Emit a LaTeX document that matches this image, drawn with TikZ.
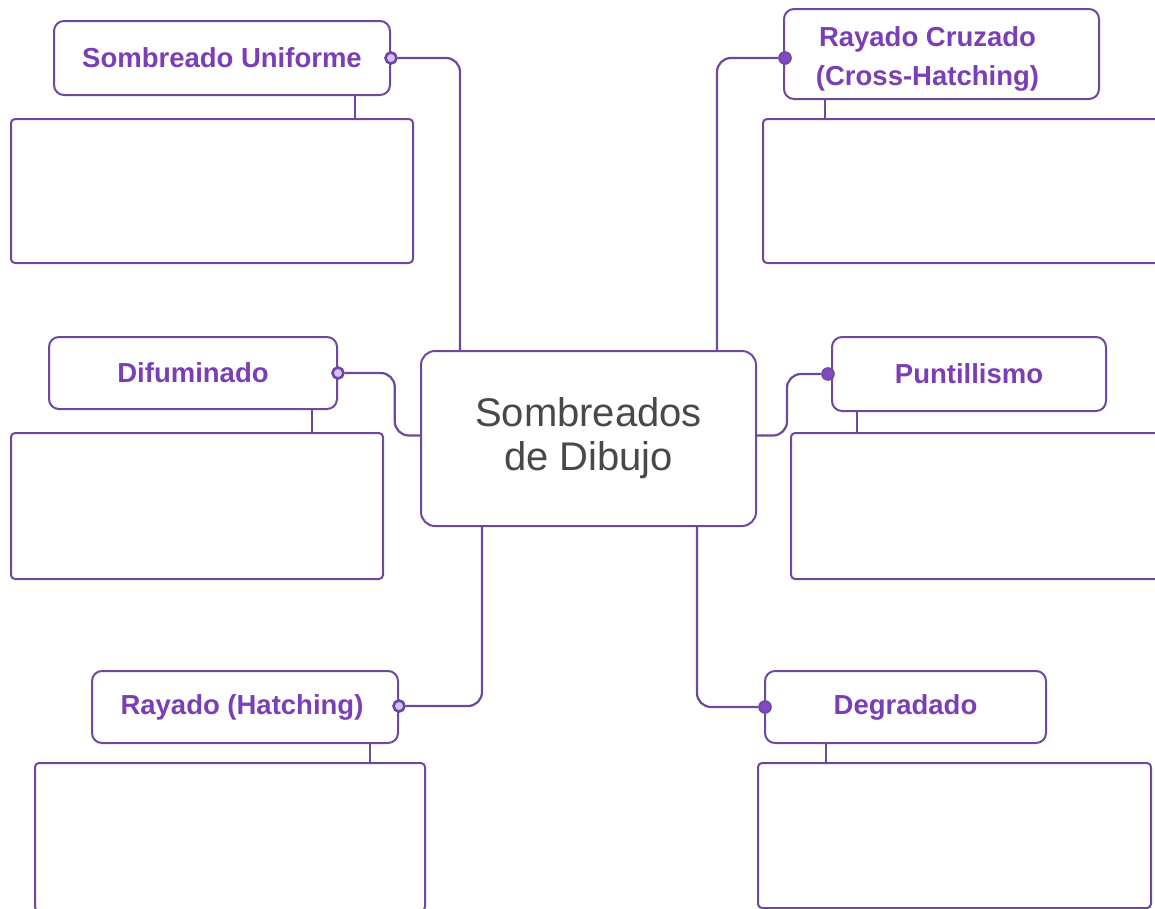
\documentclass[tikz,border=0pt]{standalone}
\usepackage{fontspec}
\setmainfont{Liberation Sans}
\usetikzlibrary{calc}
\definecolor{lineC}{RGB}{108,72,158}
\definecolor{textC}{RGB}{122,62,182}
\definecolor{centerT}{RGB}{72,72,74}
\definecolor{dotfillL}{RGB}{215,190,245}
\definecolor{dotfillR}{RGB}{130,72,196}
\tikzset{
  box/.style={draw=lineC, line width=2pt, rounded corners=10pt, anchor=north west, inner sep=0pt, align=center},
  label/.style={box, text=textC, font=\fontsize{27.5}{38}\selectfont\bfseries},
  content/.style={draw=lineC, line width=2pt, rounded corners=4pt, anchor=north west, inner sep=0pt},
  conn/.style={draw=lineC, line width=2.2pt, rounded corners=14pt},
  stem/.style={draw=lineC, line width=2pt},
  dotw/.style={circle, draw=lineC, line width=2.6pt, fill=dotfillL, minimum size=11pt, inner sep=0pt},
  dotf/.style={circle, draw=lineC, line width=1.6pt, fill=dotfillR, minimum size=12pt, inner sep=0pt},
}
\begin{document}
\begin{tikzpicture}[x=1pt,y=-1pt]
\useasboundingbox (0,0) rectangle (1155,908);
% center
\node[box, rounded corners=14pt, minimum width=335pt, minimum height=175pt, text=centerT, font=\fontsize{40}{44}\selectfont] (c) at (420,350) {Sombreados\\de Dibujo};
% label boxes
\node[label, minimum width=336pt, minimum height=74pt] (su) at (53,20) {Sombreado Uniforme};
\node[label, minimum width=315pt, minimum height=90pt, font=\fontsize{27.5}{39}\selectfont\bfseries] (rc) at (783,8) {\rule{0pt}{29pt}Rayado Cruzado\hspace*{28pt}\\(Cross-Hatching)\hspace*{28pt}};
\node[label, minimum width=288pt, minimum height=72pt] (di) at (48,336) {Difuminado};
\node[label, minimum width=274pt, minimum height=74pt] (pu) at (831,336) {Puntillismo};
\node[label, minimum width=306pt, minimum height=72pt] (ra) at (91,670) {Rayado (Hatching)\hspace*{6pt}};
\node[label, minimum width=281pt, minimum height=72pt] (de) at (764,670) {Degradado};
% content boxes
\node[content, minimum width=402pt, minimum height=144pt] (b1) at (10,118) {};
\node[content, minimum width=400pt, minimum height=144pt] (b2) at (762,118) {};
\node[content, minimum width=372pt, minimum height=146pt] (b3) at (10,432) {};
\node[content, minimum width=370pt, minimum height=146pt] (b4) at (790,432) {};
\node[content, minimum width=390pt, minimum height=148pt] (b5) at (34,762) {};
\node[content, minimum width=393pt, minimum height=145pt] (b6) at (757,762) {};
% stems
\draw[stem] ($(su.south west)+(302,0)$) -- ($(b1.north west)+(345,0)$);
\draw[stem] ($(rc.south west)+(42,0)$) -- ($(b2.north west)+(63,0)$);
\draw[stem] ($(di.south west)+(264,0)$) -- ($(b3.north west)+(302,0)$);
\draw[stem] ($(pu.south west)+(26,0)$) -- ($(b4.north west)+(67,0)$);
\draw[stem] ($(ra.south west)+(279,0)$) -- ($(b5.north west)+(336,0)$);
\draw[stem] ($(de.south west)+(62,0)$) -- ($(b6.north west)+(69,0)$);
% connectors
\coordinate (c1) at ($(c.north west)+(40,0)$);
\coordinate (c2) at ($(c.north west)+(297,0)$);
\coordinate (c5) at ($(c.south west)+(62,0)$);
\coordinate (c6) at ($(c.south west)+(277,0)$);
% dots
\node[dotw] (d1) at ($(su.east)+(0,0)$) {};
\node[dotf] (d2) at ($(rc.west)+(2,4)$) {};
\node[dotw] (d3) at (di.east) {};
\node[dotf] (d4) at ($(pu.west)+(-3,0)$) {};
\node[dotw] (d5) at ($(ra.east)+(0,-1)$) {};
\node[dotf] (d6) at ($(de.west)+(1,0)$) {};
\draw[conn] (d1.east) -| (c1);
\draw[conn] (d2.west) -| (c2);
\draw[conn] (d3.east) -- ++(50,0) |- ($(c.west)+(0,-3)$);
\draw[conn] ($(c.east)+(0,-3)$) -- ++(30,0) |- (d4.west);
\draw[conn] (d5.east) -| (c5);
\draw[conn] (c6) |- (d6.west);
\end{tikzpicture}
\end{document}
